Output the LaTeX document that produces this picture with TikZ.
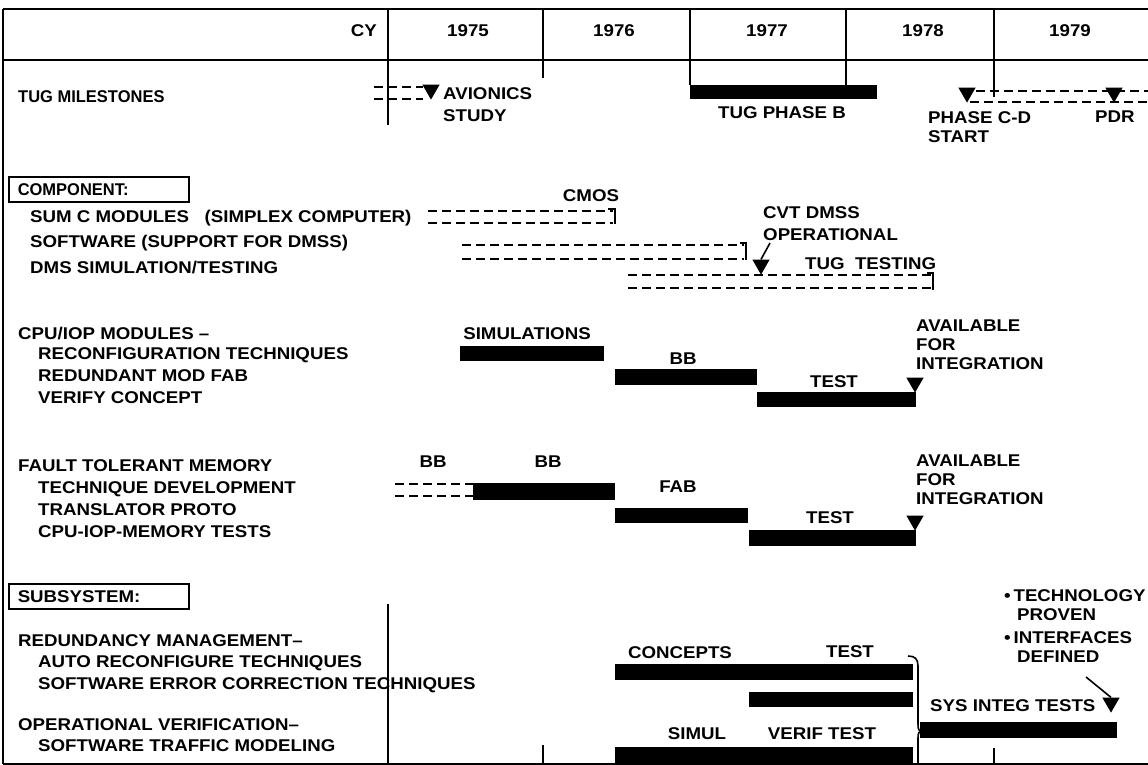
\documentclass[tikz,border=0pt]{standalone}
\usepackage{fontspec}
\setmainfont[FakeStretch=1.1]{Liberation Sans}
\newfontfamily\narrowfam[FakeStretch=0.97, Ligatures=TeX]{Liberation Sans}
\usetikzlibrary{shapes.geometric}
\newcommand\chfont{\fontsize{17}{19}\selectfont\bfseries}
\newcommand\chnarrow{\narrowfam\fontsize{17}{19}\selectfont\bfseries}
\begin{document}
\begin{tikzpicture}[x=1pt,y=-1pt,
  frame/.style={line width=2pt},
  grid/.style={line width=1.6pt},
  dsh/.style={line width=1.6pt, dash pattern=on 9pt off 5pt},
  txt/.style={font=\chfont, inner sep=0pt, anchor=base west},
  ntxt/.style={font=\chnarrow, inner sep=0pt, anchor=base west},
  ctxt/.style={font=\chfont, inner sep=0pt, anchor=base},
  mtxt/.style={font=\chfont, inner sep=0pt, anchor=north west, align=left},
  tri/.style={regular polygon, regular polygon sides=3, shape border rotate=180,
    fill=black, inner sep=0pt, minimum size=20pt, anchor=corner 1},
  secbox/.style={draw, line width=1.5pt, anchor=north west,
    minimum height=25pt, text width=162pt, inner xsep=9pt, inner ysep=0pt, align=left}]
\useasboundingbox (0,0) rectangle (1148,765);
% frame
\draw[frame] (3,9) -- (1148,9);
\draw[frame] (3,60) -- (1148,60);
\draw[frame] (3,9) -- (3,764);
\draw[frame] (3,764) -- (1148,764);
\foreach \x in {388,543,690,846,994} \draw[grid] (\x,9) -- (\x,60);
\draw[grid] (388,60) -- (388,125);
\draw[grid] (543,60) -- (543,78);
\draw[grid] (690,60) -- (690,85);
\draw[grid] (846,60) -- (846,85);
\draw[grid] (994,60) -- (994,97);
\draw[grid] (388,604) -- (388,764);
\draw[grid] (543,745) -- (543,764);
\draw[grid] (994,748) -- (994,764);
% header
\node[txt, anchor=base east] (cy) at (377,37) {CY};
\node[ctxt] (y75) at (468,37) {1975};
\node[ctxt] (y76) at (614,37) {1976};
\node[ctxt] (y77) at (767,37) {1977};
\node[ctxt] (y78) at (923,37) {1978};
\node[ctxt] (y79) at (1070,37) {1979};
% tug milestones
\node[ntxt] (tugm) at (18,103) {TUG MILESTONES};
\draw[dsh] (374,87) -- (423,87);
\draw[dsh] (374,99) -- (423,99);
\node[tri] (trav) at (431,100) {};
\node[mtxt] (avi) at (443,87) {AVIONICS\\[3pt]STUDY};
\fill (690,85) rectangle (877,99);
\node[ctxt] (phb) at (782,119) {TUG PHASE B};
\node[tri] (trcd) at (967,103) {};
\draw[dsh] (976,91) -- (1148,91);
\draw[dsh] (970,102) -- (1148,102);
\node[tri] (trpdr) at (1114,103) {};
\node[mtxt] (pcd) at (928,111) {PHASE C-D\\START};
\node[txt] (pdr) at (1095,123) {PDR};
% component
\node[secbox, font=\chnarrow] (comp) at (8,176) {COMPONENT:};
\node[txt] (sumc) at (30,222) {SUM C MODULES~~~(SIMPLEX COMPUTER)};
\draw[dsh] (428,211) -- (613,211);
\draw[dsh] (428,223) -- (613,223);
\draw[grid] (608,209) -- (615,209) -- (615,224);
\node[ctxt] (cmos) at (591,201) {CMOS};
\node[txt] (sw) at (30,247) {SOFTWARE (SUPPORT FOR DMSS)};
\draw[dsh] (462,245) -- (744,245);
\draw[dsh] (462,259) -- (744,259);
\draw[grid] (740,243) -- (746,243) -- (746,260);
\node[mtxt] (cvt) at (763,206) {CVT DMSS\\[3pt]OPERATIONAL};
\coordinate (cvtl) at (770,243);
\node[tri] (trcvt) at (761,275) {};
\draw[grid] (cvtl) -- (trcvt.north);
\node[txt] (dms) at (30,273) {DMS SIMULATION/TESTING};
\draw[dsh] (628,275) -- (931,275);
\draw[dsh] (628,288) -- (931,288);
\draw[grid] (927,273) -- (933,273) -- (933,290);
\node[txt] (tugt) at (805,269) {TUG~~TESTING};
% CPU/IOP
\node[txt] (cpu) at (18,339) {CPU/IOP MODULES --};
\node[txt] (cpu1) at (38,359) {RECONFIGURATION TECHNIQUES};
\node[txt] (cpu2) at (38,381) {REDUNDANT MOD FAB};
\node[txt] (cpu3) at (38,403) {VERIFY CONCEPT};
\node[ctxt] (sim) at (527,339) {SIMULATIONS};
\fill (460,346) rectangle (604,361);
\node[ctxt] (bb1) at (683,364) {BB};
\fill (615,369) rectangle (757,385);
\node[ctxt] (test1) at (834,387) {TEST};
\fill (757,392) rectangle (916,407);
\node[tri] (tra1) at (915,393) {};
\node[mtxt] (av1) at (916,320) {AVAILABLE\\FOR\\INTEGRATION};
% fault tolerant memory
\node[txt] (ftm) at (18,471) {FAULT TOLERANT MEMORY};
\node[txt] (ftm1) at (38,493) {TECHNIQUE DEVELOPMENT};
\node[txt] (ftm2) at (38,515) {TRANSLATOR PROTO};
\node[txt] (ftm3) at (38,537) {CPU-IOP-MEMORY~TESTS};
\node[ctxt] (bb2) at (433,467) {BB};
\node[ctxt] (bb3) at (548,467) {BB};
\draw[dsh] (395,484) -- (473,484);
\draw[dsh] (395,496) -- (473,496);
\fill (473,483) rectangle (615,500);
\node[ctxt] (fab) at (678,492) {FAB};
\fill (615,508) rectangle (748,523);
\node[ctxt] (test2) at (830,523) {TEST};
\fill (749,530) rectangle (916,546);
\node[tri] (tra2) at (915,531) {};
\node[mtxt] (av2) at (916,455) {AVAILABLE\\FOR\\INTEGRATION};
% subsystem
\node[secbox, font=\chfont] (subs) at (8,583) {SUBSYSTEM:};
\node[txt] (rm) at (18,646) {REDUNDANCY MANAGEMENT--};
\node[txt] (rm1) at (38,667) {AUTO RECONFIGURE TECHNIQUES};
\node[txt] (rm2) at (38,689) {SOFTWARE ERROR CORRECTION TECHNIQUES};
\node[txt] (ov) at (18,730) {OPERATIONAL VERIFICATION--};
\node[txt] (ov1) at (38,751) {SOFTWARE TRAFFIC MODELING};
\node[ctxt] (conc) at (680,658) {CONCEPTS};
\node[ctxt] (test3) at (850,657) {TEST};
\fill (615,664) rectangle (913,680);
\fill (749,692) rectangle (913,707);
\node[ctxt] (simul) at (697,739) {SIMUL};
\node[ctxt] (vt) at (822,739) {VERIF TEST};
\fill (615,747) rectangle (913,765);
\draw[grid] (908,656) .. controls (915,656) and (918,659) .. (918,666) -- (918,724)
  .. controls (918,730) and (919,731) .. (922,731) .. controls (919,731) and (918,733) .. (918,738) -- (918,765);
\fill (920,722) rectangle (1117,738);
\node[txt] (sit) at (930,711) {SYS INTEG TESTS};
\node[tri] (trsit) at (1111,713) {};
\node[mtxt] (tech) at (1004,589) {\textbullet\,TECHNOLOGY\\\hspace{13pt}PROVEN\\[4pt]\textbullet\,INTERFACES\\\hspace{13pt}DEFINED};
\coordinate (defl) at (1086,677);
\draw[grid] (defl) -- (trsit.north);
\end{tikzpicture}
\end{document}
